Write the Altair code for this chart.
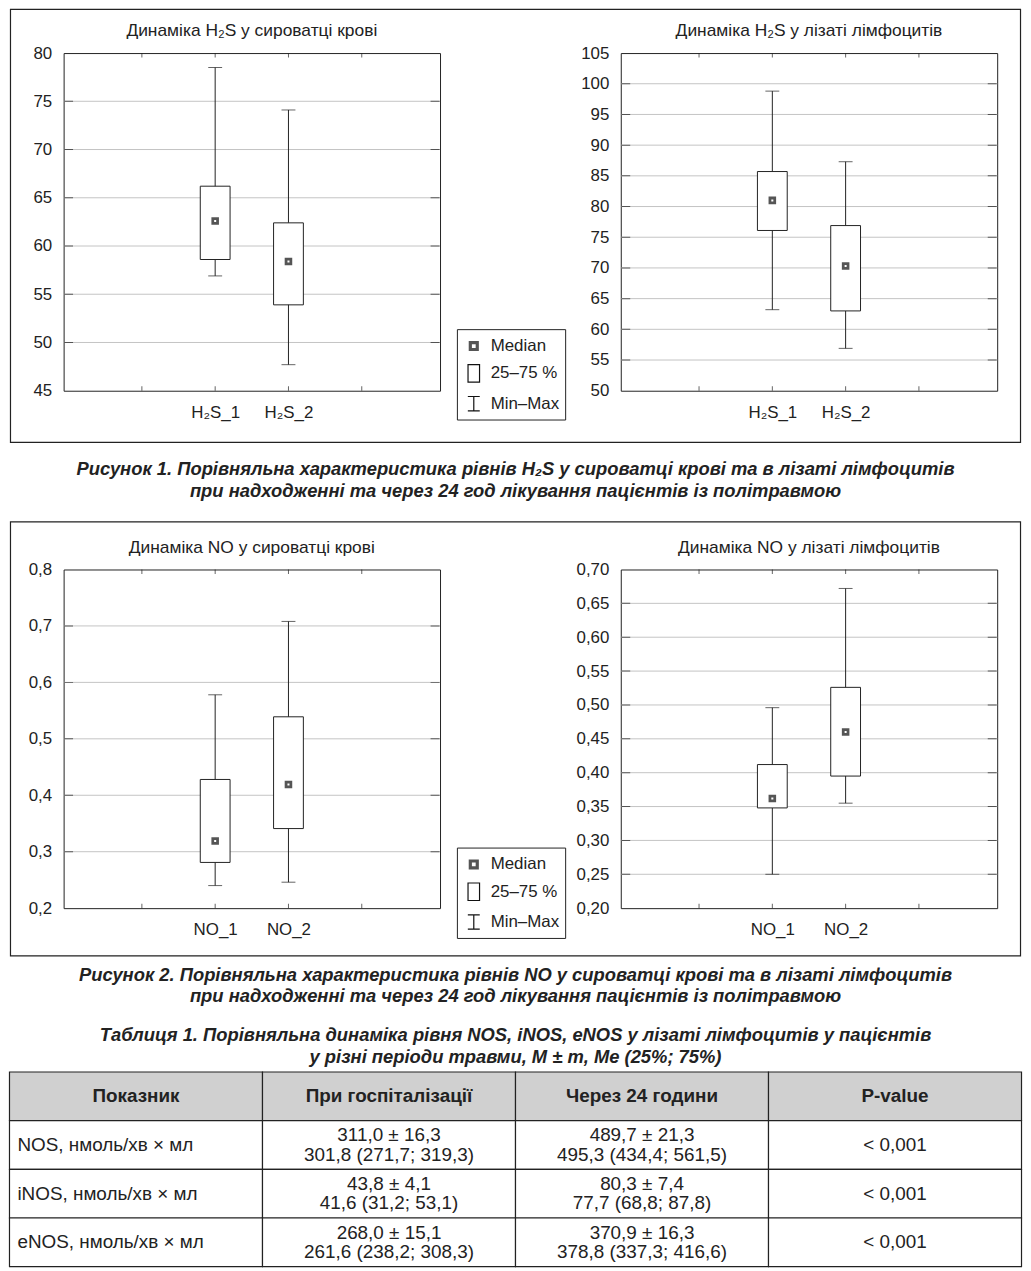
import altair as alt
import pandas as pd

FONT = "Liberation Sans"
INK = "#222222"

# ---------------- data ----------------
h2s_cats = ["H₂S_1", "H₂S_2"]
no_cats = ["NO_1", "NO_2"]

h2s_serum_min = [56.9, 47.7]
h2s_serum_q1 = [58.6, 53.9]
h2s_serum_med = [62.6, 58.4]
h2s_serum_q3 = [66.2, 62.4]
h2s_serum_max = [78.5, 74.1]

h2s_lys_min = [63.2, 56.9]
h2s_lys_q1 = [76.1, 63.0]
h2s_lys_med = [81.0, 70.3]
h2s_lys_q3 = [85.7, 76.9]
h2s_lys_max = [98.8, 87.3]

no_serum_min = [0.240, 0.246]
no_serum_q1 = [0.281, 0.341]
no_serum_med = [0.319, 0.419]
no_serum_q3 = [0.428, 0.539]
no_serum_max = [0.578, 0.708]

no_lys_min = [0.250, 0.355]
no_lys_q1 = [0.348, 0.395]
no_lys_med = [0.362, 0.460]
no_lys_q3 = [0.412, 0.526]
no_lys_max = [0.496, 0.672]

h2s_serum_ticks = [45, 50, 55, 60, 65, 70, 75, 80]
h2s_lys_ticks = [50, 55, 60, 65, 70, 75, 80, 85, 90, 95, 100, 105]
no_serum_ticks = [0.2, 0.3, 0.4, 0.5, 0.6, 0.7, 0.8]
no_lys_ticks = [0.20, 0.25, 0.30, 0.35, 0.40, 0.45, 0.50, 0.55, 0.60, 0.65, 0.70]

cat_slots = [1, 2, 3, 4]  # tick slots of the category axis (domain 0..5)

legend_labels = ["Median", "25–75 %", "Min–Max"]

titles = [
    "Динаміка H₂S у сироватці крові",
    "Динаміка H₂S у лізаті лімфоцитів",
    "Динаміка NO у сироватці крові",
    "Динаміка NO у лізаті лімфоцитів",
]
caption1 = [
    "Рисунок 1.  Порівняльна характеристика рівнів H₂S у сироватці крові та в лізаті лімфоцитів",
    "при надходженні та через 24 год лікування пацієнтів із політравмою",
]
caption2 = [
    "Рисунок 2. Порівняльна характеристика рівнів NO у сироватці крові та в лізаті лімфоцитів",
    "при надходженні та через 24 год лікування пацієнтів із політравмою",
]
table_title = [
    "Таблиця 1.  Порівняльна динаміка рівня NOS, iNOS, eNOS у лізаті лімфоцитів у пацієнтів",
    "у різні періоди травми, M ± m, Me (25%; 75%)",
]

tbl_cols = ["Показник", "При госпіталізації", "Через 24 години", "P-value"]
tbl_rows = ["NOS, нмоль/хв × мл", "iNOS, нмоль/хв × мл", "eNOS, нмоль/хв × мл"]
tbl_mean_adm = ["311,0 ± 16,3", "43,8 ± 4,1", "268,0 ± 15,1"]
tbl_me_adm = ["301,8 (271,7; 319,3)", "41,6 (31,2; 53,1)", "261,6 (238,2; 308,3)"]
tbl_mean_24 = ["489,7 ± 21,3", "80,3 ± 7,4", "370,9 ± 16,3"]
tbl_me_24 = ["495,3 (434,4; 561,5)", "77,7 (68,8; 87,8)", "378,8 (337,3; 416,6)"]
tbl_p = ["< 0,001", "< 0,001", "< 0,001"]

# ---------------- styling ----------------
W = 379
H1, H2 = 340, 341
SQ = ("M-0.45,-0.45H0.45V0.45H-0.45Z M-0.35,-0.35H0.35V0.35H-0.35Z "
      "M-0.25,-0.25H0.25V0.25H-0.25Z")
RECT = "M-0.58,-0.88H0.58V0.88H-0.58Z"
IBEAM = "M-0.6,-0.72H0.6M0,-0.72V0.72M-0.6,0.72H0.6"
LEG_PATHS = [SQ, RECT, IBEAM]
LEG_COLORS = ["#555555", "#111111", "#111111"]
CAP_SIZE = 18.5
TFS = 19  # table font size
TLH = 19.5  # table line height


def text_layer(lines, x, y, size=17, bold=False, italic=False, lh=22):
    df = pd.DataFrame({"t": ["\n".join(lines)]})
    kw = dict(fontSize=size, font=FONT, color=INK, align="center",
              baseline="middle", lineBreak="\n", lineHeight=lh)
    if bold:
        kw["fontWeight"] = "bold"
    if italic:
        kw["fontStyle"] = "italic"
    return alt.Chart(df).mark_text(**kw).encode(
        x=alt.value(x), y=alt.value(y), text="t:N")


def panel(cats, mins, q1s, meds, q3s, maxs, ticks, decimals, title, H,
          legend_xy=None, frame=None, caption=None):
    slots = [i + 2 for i in range(len(cats))]
    df = pd.DataFrame({"cat": cats, "slot": slots, "min": mins, "q1": q1s,
                       "med": meds, "q3": q3s, "max": maxs,
                       "leg": [legend_labels[0]] * len(cats)})
    lo, hi = ticks[0], ticks[-1]
    xs = alt.Scale(domain=[0, 5], nice=False, zero=False)
    ys = alt.Scale(domain=[lo, hi], nice=False, zero=False)
    arr = "[" + ",".join("'%s'" % c for c in ["", ""] + cats) + "]"
    xax = alt.Axis(values=slots, labelExpr=arr + "[datum.value]", ticks=False,
                   domain=False, grid=False, labelPadding=14, labelFontSize=17,
                   labelColor=INK, labelFont=FONT, title=None)
    if decimals == 0:
        lexpr = "format(datum.value, 'd')"
    else:
        lexpr = "replace(format(datum.value, '.%df'), '.', ',')" % decimals
    yax = alt.Axis(values=ticks, labelExpr=lexpr, ticks=False, domain=False,
                   grid=False, labelPadding=12, labelFontSize=17,
                   labelColor=INK, labelFont=FONT, title=None)

    layers = []
    if frame is not None:
        fx0, fx1, fy0, fy1 = frame
        layers.append(alt.Chart(pd.DataFrame({"f": [0]})).mark_rect(
            fillOpacity=0, stroke=INK, strokeWidth=1.2).encode(
            x=alt.value(fx0), x2=alt.value(fx1), y=alt.value(fy0), y2=alt.value(fy1)))

    inner = ticks[1:-1]
    grid = alt.Chart(pd.DataFrame({"g": inner})).mark_rule(
        color="#c4c4c4", strokeWidth=1).encode(
        y=alt.Y("g:Q", scale=ys, axis=yax))
    layers.append(grid)

    ytk = pd.DataFrame({"t": inner * 2, "xe": [0] * len(inner) + [5] * len(inner)})
    layers.append(alt.Chart(ytk).mark_tick(
        orient="horizontal", size=9, thickness=1, color=INK, clip=True).encode(
        x=alt.X("xe:Q", scale=xs, axis=xax), y=alt.Y("t:Q", scale=ys, axis=yax)))

    xtk = pd.DataFrame({"s": cat_slots * 2, "ye": [lo] * 4 + [hi] * 4})
    layers.append(alt.Chart(xtk).mark_tick(
        orient="vertical", size=9, thickness=1, color=INK, clip=True).encode(
        x=alt.X("s:Q", scale=xs, axis=xax), y=alt.Y("ye:Q", scale=ys, axis=yax)))

    base = alt.Chart(df)
    X = alt.X("slot:Q", scale=xs, axis=xax)
    layers.append(base.mark_rule(color=INK, strokeWidth=1).encode(
        x=X, y=alt.Y("min:Q", scale=ys, axis=yax), y2="max:Q"))
    layers.append(base.mark_bar(size=30, fill="white", stroke=INK, strokeWidth=1).encode(
        x=X, y=alt.Y("q1:Q", scale=ys, axis=yax), y2="q3:Q"))
    layers.append(base.transform_fold(["min", "max"], as_=["k", "v"]).mark_tick(
        orient="horizontal", size=14, thickness=1, color=INK).encode(
        x=X, y=alt.Y("v:Q", scale=ys, axis=yax)))

    if legend_xy is not None:
        leg = alt.Legend(title=None, orient="none", legendX=legend_xy[0],
                         legendY=legend_xy[1], strokeColor=INK, fillColor="white",
                         padding=6, labelFont=FONT, labelFontSize=17,
                         labelColor=INK, symbolSize=400, symbolStrokeWidth=1.2,
                         labelOffset=6, rowPadding=7.5)
    else:
        leg = None
    layers.append(base.mark_point(filled=False, size=190, strokeWidth=1.4,
                                  opacity=1).encode(
        x=X, y=alt.Y("med:Q", scale=ys, axis=yax),
        shape=alt.Shape("leg:N", scale=alt.Scale(domain=legend_labels, range=LEG_PATHS),
                        legend=leg),
        color=alt.Color("leg:N", scale=alt.Scale(domain=legend_labels, range=LEG_COLORS),
                        legend=leg)))

    layers.append(text_layer([title], W / 2, -22, size=17.5))
    if caption is not None:
        layers.append(text_layer(caption[0], caption[1], caption[2], size=CAP_SIZE,
                                 bold=True, italic=True))

    return alt.layer(*layers).properties(
        width=W, height=H, view=alt.ViewBackground(stroke=INK, strokeWidth=1))


CX = 455  # horizontal centre of the page relative to the left plot
FRAME_X = (-53.5, 963.5)

A1 = panel(h2s_cats, h2s_serum_min, h2s_serum_q1, h2s_serum_med, h2s_serum_q3,
           h2s_serum_max, h2s_serum_ticks, 0, titles[0], H1, legend_xy=(396, H1 - 62),
           frame=(FRAME_X[0], FRAME_X[1], -44, H1 + 52), caption=(caption1, CX, H1 + 79))
B1 = panel(h2s_cats, h2s_lys_min, h2s_lys_q1, h2s_lys_med, h2s_lys_q3,
           h2s_lys_max, h2s_lys_ticks, 0, titles[1], H1)
A2 = panel(no_cats, no_serum_min, no_serum_q1, no_serum_med, no_serum_q3,
           no_serum_max, no_serum_ticks, 1, titles[2], H2, legend_xy=(396, H2 - 61),
           frame=(FRAME_X[0], FRAME_X[1], -48, H2 + 48), caption=(caption2, CX, H2 + 67))
B2 = panel(no_cats, no_lys_min, no_lys_q1, no_lys_med, no_lys_q3,
           no_lys_max, no_lys_ticks, 2, titles[3], H2)

res = dict(x="independent", y="independent", color="independent", shape="independent")
row1 = alt.hconcat(A1, B1, spacing=182, bounds="flush").resolve_scale(**res)
row2 = alt.hconcat(A2, B2, spacing=182, bounds="flush").resolve_scale(**res)

# ---------------- table ----------------
hdr_key = "hdr"
ykeys = [hdr_key] + tbl_rows
recs = []
for c in tbl_cols:
    recs.append({"row": hdr_key, "col": c, "txt": c, "kind": "hdr"})
for i, r in enumerate(tbl_rows):
    recs.append({"row": r, "col": tbl_cols[0], "txt": r, "kind": "lab"})
    recs.append({"row": r, "col": tbl_cols[1], "txt": tbl_mean_adm[i] + "\n" + tbl_me_adm[i], "kind": "val2"})
    recs.append({"row": r, "col": tbl_cols[2], "txt": tbl_mean_24[i] + "\n" + tbl_me_24[i], "kind": "val2"})
    recs.append({"row": r, "col": tbl_cols[3], "txt": tbl_p[i], "kind": "val1"})
tdf = pd.DataFrame(recs)

TW, TH = 907, 196
tx = alt.Scale(domain=tbl_cols, range=[-54.5, 964.5], paddingInner=0, paddingOuter=0)
ty = alt.Scale(domain=ykeys, range=[0, TH], paddingInner=0, paddingOuter=0)
TX = alt.X("col:N", scale=tx, axis=None)
TY = alt.Y("row:N", scale=ty, axis=None)
tbase = alt.Chart(tdf)
cells = tbase.mark_rect(stroke=INK, strokeWidth=1.2).encode(
    x=TX, y=TY,
    fill=alt.condition("datum.kind === 'hdr'", alt.value("#d0d0d0"), alt.value("white")))
hdr_txt = tbase.transform_filter("datum.kind === 'hdr'").mark_text(
    font=FONT, fontSize=TFS, fontWeight="bold", color=INK).encode(
    x=TX, y=TY, text="txt:N")
lab_txt = tbase.transform_filter("datum.kind === 'lab'").mark_text(
    font=FONT, fontSize=TFS, color=INK, align="left", dx=8).encode(
    x=alt.X("col:N", scale=tx, axis=None, bandPosition=0), y=TY, text="txt:N")
val2_txt = tbase.transform_filter("datum.kind === 'val2'").mark_text(
    font=FONT, fontSize=TFS, color=INK, lineBreak="\n", lineHeight=TLH,
    dy=-TLH / 2).encode(x=TX, y=TY, text="txt:N")
val1_txt = tbase.transform_filter("datum.kind === 'val1'").mark_text(
    font=FONT, fontSize=TFS, color=INK).encode(
    x=TX, y=TY, text="txt:N")
ttl = text_layer(table_title, CX, -37, size=CAP_SIZE, bold=True, italic=True)

table = alt.layer(cells, hdr_txt, lab_txt, val2_txt, val1_txt, ttl).properties(
    width=TW, height=TH, view=alt.ViewBackground(stroke="transparent"))

chart = alt.vconcat(row1, row2, table, spacing=19).resolve_scale(**res).properties(
    padding={"top": -5, "bottom": 0, "left": 0, "right": 0},
    autosize=alt.AutoSizeParams(type="pad")
).configure(font=FONT).configure_view(stroke="transparent")

chart.save("out.html", embed_options={"renderer": "svg", "actions": False})
